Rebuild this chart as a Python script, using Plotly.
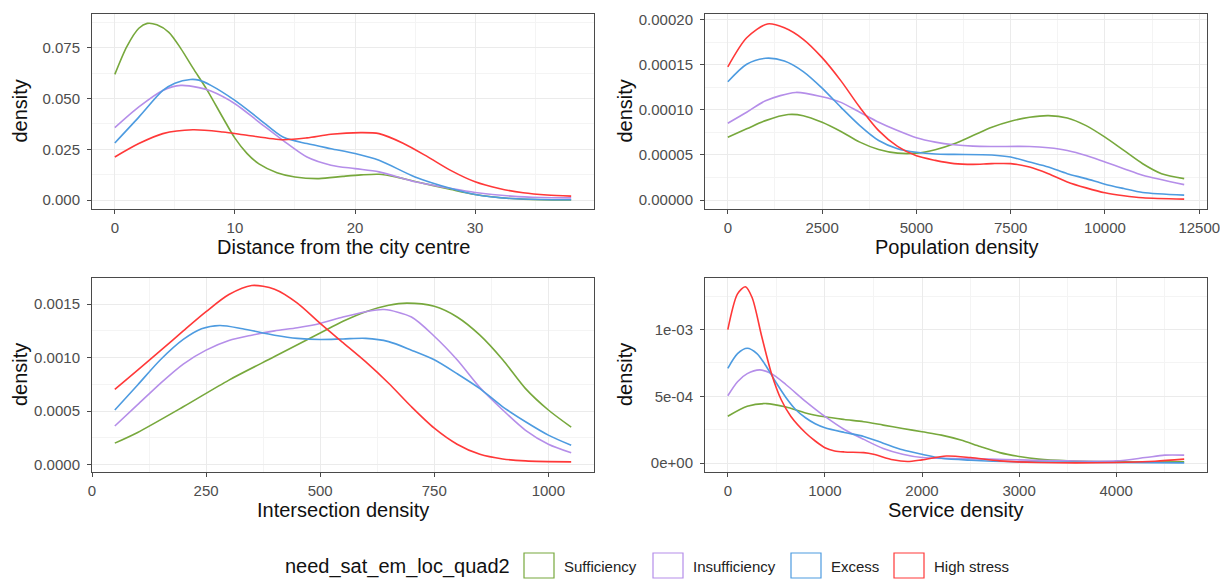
import plotly.graph_objects as go
from plotly.subplots import make_subplots

W, H = 1220, 579

groups = ["Sufficiency", "Insufficiency", "Excess", "High stress"]
colors = ["#77a83c", "#b58ee9", "#4d9be0", "#ff3838"]
legend_title = "need_sat_em_loc_quad2"

# ---- Panel 1: Distance from the city centre ----
dist_suff_x = [0, 1, 2, 2.7, 3.5, 4.5, 5.5, 6.5, 7.7, 9, 10, 11, 12, 13.5, 15, 17, 19, 20.5, 22, 23.5, 25, 28, 30, 33, 35.5, 38]
dist_suff_y = [0.0618, 0.0755, 0.0845, 0.0869, 0.0862, 0.0825, 0.0745, 0.0650, 0.0540, 0.0405, 0.0305, 0.0230, 0.0178, 0.0135, 0.0114, 0.0106, 0.0117, 0.0124, 0.0127, 0.0113, 0.0092, 0.0052, 0.0028, 0.0008, 0.0002, 0.0001]
dist_insuf_x = [0, 2, 4, 5.5, 7, 8, 10, 12, 14, 16, 18, 20, 22, 25, 28, 30, 33, 35.5, 38]
dist_insuf_y = [0.0356, 0.0458, 0.0539, 0.0564, 0.0553, 0.0536, 0.0474, 0.0384, 0.0294, 0.0212, 0.0172, 0.0155, 0.0139, 0.009, 0.0057, 0.0038, 0.002, 0.0013, 0.0011]
dist_exc_x = [0, 2, 4, 5, 6.3, 7, 8, 10, 12, 14, 16, 18, 20, 22, 25, 28, 30, 33, 35.5, 38]
dist_exc_y = [0.0281, 0.0408, 0.0539, 0.0575, 0.0593, 0.059, 0.0564, 0.049, 0.040, 0.031, 0.0278, 0.0253, 0.0229, 0.0196, 0.0114, 0.0057, 0.0028, 0.0008, 0.0003, 0.0002]
dist_high_x = [0, 2, 4, 6.5, 9, 11, 14, 16, 18, 20.5, 22, 24, 26, 28, 30, 32, 34, 36, 38]
dist_high_y = [0.0212, 0.0278, 0.0327, 0.0346, 0.0335, 0.0319, 0.0297, 0.0306, 0.0324, 0.0332, 0.0327, 0.028, 0.0215, 0.0145, 0.009, 0.0057, 0.0036, 0.0025, 0.002]

# ---- Panel 2: Population density ----
pop_suff_x = [0, 500, 1000, 1600, 2000, 2500, 3000, 3500, 4000, 4500, 5000, 5500, 6000, 6500, 7000, 7500, 8000, 8500, 9000, 9500, 10000, 10500, 11000, 11500, 12100]
pop_suff_y = [6.97e-5, 7.89e-5, 8.8e-5, 9.47e-5, 9.35e-5, 8.62e-5, 7.6e-5, 6.42e-5, 5.6e-5, 5.2e-5, 5.2e-5, 5.58e-5, 6.24e-5, 7.15e-5, 8.07e-5, 8.73e-5, 9.17e-5, 9.35e-5, 9.1e-5, 8.25e-5, 6.97e-5, 5.5e-5, 4.03e-5, 2.93e-5, 2.38e-5]
pop_insuf_x = [0, 500, 1000, 1800, 2500, 3000, 3500, 4000, 4500, 5000, 5500, 6000, 6500, 7000, 8000, 8500, 9000, 9500, 10000, 10500, 11000, 12100]
pop_insuf_y = [8.51e-5, 9.72e-5, 1.10e-4, 1.192e-4, 1.144e-4, 1.082e-4, 9.72e-5, 8.62e-5, 7.7e-5, 6.9e-5, 6.42e-5, 6.13e-5, 5.98e-5, 5.94e-5, 5.94e-5, 5.8e-5, 5.5e-5, 4.95e-5, 4.22e-5, 3.48e-5, 2.75e-5, 1.72e-5]
pop_exc_x = [0, 500, 1000, 1500, 2000, 2500, 3000, 3500, 4000, 4500, 5000, 5500, 6000, 7000, 7500, 8000, 8500, 9000, 9500, 10000, 10500, 11000, 12100]
pop_exc_y = [1.31e-4, 1.504e-4, 1.57e-4, 1.54e-4, 1.423e-4, 1.24e-4, 1.027e-4, 8.25e-5, 6.6e-5, 5.7e-5, 5.3e-5, 5.1e-5, 5.06e-5, 5.0e-5, 4.77e-5, 4.22e-5, 3.67e-5, 2.93e-5, 2.38e-5, 1.76e-5, 1.28e-5, 8.4e-6, 5.5e-6]
pop_high_x = [0, 500, 1050, 1500, 2000, 2500, 3000, 3500, 4000, 4500, 5000, 5500, 6000, 6500, 7000, 7500, 8000, 8500, 9000, 9500, 10000, 10500, 11000, 12100]
pop_high_y = [1.475e-4, 1.797e-4, 1.95e-4, 1.907e-4, 1.78e-4, 1.577e-4, 1.32e-4, 1.027e-4, 7.7e-5, 5.95e-5, 4.9e-5, 4.4e-5, 4.04e-5, 3.96e-5, 4.04e-5, 4.04e-5, 3.67e-5, 2.93e-5, 2.02e-5, 1.36e-5, 8.1e-6, 4.8e-6, 2.6e-6, 1.1e-6]

# ---- Panel 3: Intersection density ----
int_suff_x = [50, 100, 200, 300, 400, 500, 550, 600, 650, 690, 750, 800, 850, 900, 950, 1000, 1050]
int_suff_y = [0.0002, 0.0003, 0.00054, 0.00079, 0.00101, 0.00123, 0.00134, 0.00143, 0.00149, 0.00151, 0.00148, 0.00138, 0.00121, 0.00098, 0.00071, 0.00051, 0.00035]
int_insuf_x = [50, 100, 150, 200, 250, 300, 350, 400, 450, 500, 550, 600, 640, 700, 750, 800, 850, 900, 950, 1000, 1050]
int_insuf_y = [0.00036, 0.00056, 0.00076, 0.00094, 0.00107, 0.00116, 0.00121, 0.00125, 0.00128, 0.00132, 0.00138, 0.00143, 0.00145, 0.00138, 0.00120, 0.00098, 0.00072, 0.00051, 0.00032, 0.00019, 0.00011]
int_exc_x = [50, 100, 150, 200, 240, 280, 330, 400, 450, 500, 550, 600, 650, 700, 750, 800, 850, 900, 950, 1000, 1050]
int_exc_y = [0.00051, 0.000744, 0.00098, 0.00117, 0.00127, 0.0013, 0.00127, 0.00121, 0.00118, 0.00117, 0.001175, 0.00118, 0.00115, 0.00107, 0.00098, 0.00085, 0.00071, 0.00054, 0.0004, 0.000275, 0.00018]
int_high_x = [50, 100, 150, 200, 250, 300, 350, 400, 450, 500, 550, 600, 650, 700, 750, 800, 850, 900, 950, 1050]
int_high_y = [0.000703, 0.000884, 0.001065, 0.00125, 0.00143, 0.00159, 0.001675, 0.00164, 0.00151, 0.00132, 0.00114, 0.00096, 0.00076, 0.00054, 0.00034, 0.00019, 0.0000950, 0.000052, 0.000034, 0.000025]

# ---- Panel 4: Service density ----
srv_suff_x = [0, 200, 400, 600, 800, 1000, 1200, 1400, 1600, 1800, 2000, 2200, 2400, 2600, 2800, 3000, 3200, 3500, 4000, 4700]
srv_suff_y = [0.000351, 0.000426, 0.000446, 0.00042, 0.000376, 0.000347, 0.000327, 0.00031, 0.000285, 0.00026, 0.000235, 0.00021, 0.000173, 0.000124, 0.000079, 0.00005, 0.00003, 0.000017, 0.00001, 0.00001]
srv_insuf_x = [0, 100, 200, 330, 450, 600, 800, 1000, 1200, 1400, 1600, 1800, 2000, 2300, 2700, 3000, 3500, 4000, 4300, 4500, 4700]
srv_insuf_y = [0.000505, 0.00061, 0.00067, 0.000698, 0.00067, 0.000587, 0.000463, 0.00035, 0.000252, 0.000178, 0.00011, 0.000067, 0.000042, 0.000035, 0.00003, 0.000025, 0.000017, 0.000017, 0.000042, 0.00006, 0.00006]
srv_exc_x = [0, 100, 200, 300, 400, 500, 600, 700, 800, 900, 1000, 1200, 1400, 1600, 1800, 2000, 2200, 2500, 3000, 4000, 4700]
srv_exc_y = [0.00071, 0.00082, 0.00086, 0.00082, 0.00072, 0.0006, 0.00049, 0.0004, 0.00034, 0.000295, 0.000265, 0.00023, 0.0002, 0.00015, 0.0001, 0.000067, 0.000037, 0.000022, 0.00001, 0.000005, 0.000002]
srv_high_x = [0, 100, 180, 250, 350, 450, 550, 650, 800, 900, 1000, 1100, 1200, 1400, 1500, 1700, 1850, 2000, 2250, 2500, 2800, 3200, 4000, 4400, 4700]
srv_high_y = [0.001, 0.001267, 0.00132, 0.00124, 0.000946, 0.00067, 0.000475, 0.00035, 0.000228, 0.000166, 0.000116, 0.0000916, 0.000084, 0.000079, 0.000067, 0.000025, 0.0000124, 0.000025, 0.000054, 0.000042, 0.000017, 0.000005, 0.000005, 0.000015, 0.00003]

# ---- Axis titles and ticks ----
x_titles = ["Distance from the city centre", "Population density", "Intersection density", "Service density"]
y_title = "density"
x_tickvals = [[0, 10, 20, 30], [0, 2500, 5000, 7500, 10000, 12500], [0, 250, 500, 750, 1000], [0, 1000, 2000, 3000, 4000]]
x_ticktext = [["0", "10", "20", "30"], ["0", "2500", "5000", "7500", "10000", "12500"], ["0", "250", "500", "750", "1000"], ["0", "1000", "2000", "3000", "4000"]]
y_tickvals = [[0, 0.025, 0.05, 0.075], [0, 0.00005, 0.0001, 0.00015, 0.0002], [0, 0.0005, 0.001, 0.0015], [0, 0.0005, 0.001]]
y_ticktext = [["0.000", "0.025", "0.050", "0.075"], ["0.00000", "0.00005", "0.00010", "0.00015", "0.00020"], ["0.0000", "0.0005", "0.0010", "0.0015"], ["0e+00", "5e-04", "1e-03"]]
x_ranges = [[-1.9, 39.9], [-605, 12705], [0, 1100], [-235, 4935]]
y_ranges = [[-0.00435, 0.0915], [-0.0000098, 0.000206], [-0.00007, 0.001745], [-0.000066, 0.001386]]

panels = [
    [(dist_suff_x, dist_suff_y), (dist_insuf_x, dist_insuf_y), (dist_exc_x, dist_exc_y), (dist_high_x, dist_high_y)],
    [(pop_suff_x, pop_suff_y), (pop_insuf_x, pop_insuf_y), (pop_exc_x, pop_exc_y), (pop_high_x, pop_high_y)],
    [(int_suff_x, int_suff_y), (int_insuf_x, int_insuf_y), (int_exc_x, int_exc_y), (int_high_x, int_high_y)],
    [(srv_suff_x, srv_suff_y), (srv_insuf_x, srv_insuf_y), (srv_exc_x, srv_exc_y), (srv_high_x, srv_high_y)],
]

FONT = "Liberation Sans, Arial, sans-serif"

# panel boxes in pixels (left, right, top, bottom)
boxes = [(92, 594, 14, 209), (705, 1207, 14, 209), (92, 594, 278, 472), (705, 1207, 278, 472)]

fig = make_subplots(rows=2, cols=2)
positions = [(1, 1), (1, 2), (2, 1), (2, 2)]

for p, (r, c) in enumerate(positions):
    for g, (xs, ys) in enumerate(panels[p]):
        fig.add_trace(go.Scatter(x=xs, y=ys, mode="lines", name=groups[g],
                                 line=dict(color=colors[g], width=1.6, shape="spline", smoothing=0.8),
                                 showlegend=False, hoverinfo="skip"), row=r, col=c)

def mids(vals, rng):
    step = vals[1] - vals[0]
    out = []
    v = vals[0] - step / 2
    while v <= rng[1]:
        if v >= rng[0]:
            out.append(v)
        v += step
    return out

for p in range(4):
    l, rr, t, b = boxes[p]
    xd = [l / W, rr / W]
    yd = [1 - b / H, 1 - t / H]
    axn = "" if p == 0 else str(p + 1)
    common = dict(showline=True, mirror=True, linecolor="#4a4a4a", linewidth=1,
                  ticks="outside", ticklen=4, tickcolor="#4a4a4a", tickwidth=1,
                  showgrid=True, gridcolor="#ebebeb", gridwidth=1, zeroline=False,
                  tickfont=dict(family=FONT, size=15, color="#4d4d4d"),
                  tickmode="array", ticklabeloverflow="allow", automargin=False)
    fig.layout["xaxis" + axn].update(domain=xd, range=x_ranges[p], tickvals=x_tickvals[p],
                                     ticktext=x_ticktext[p], ticklabelstandoff=1,
                                     minor=dict(tickvals=mids(x_tickvals[p], x_ranges[p]), showgrid=True,
                                                gridcolor="#f4f4f4", gridwidth=0.6, ticks=""),
                                     **common)
    fig.layout["yaxis" + axn].update(domain=yd, range=y_ranges[p], tickvals=y_tickvals[p],
                                     ticktext=y_ticktext[p], ticklabelstandoff=4,
                                     minor=dict(tickvals=mids(y_tickvals[p], y_ranges[p]), showgrid=True,
                                                gridcolor="#f4f4f4", gridwidth=0.6, ticks=""),
                                     **common)

annotations = []
# axis titles
for p in range(4):
    l, rr, t, b = boxes[p]
    annotations.append(dict(text=x_titles[p], x=(l + rr) / 2 / W, y=1 - (b + 38) / H,
                            xref="paper", yref="paper", showarrow=False, xanchor="center", yanchor="middle",
                            font=dict(family=FONT, size=20, color="#111111")))
    yx = 20 if p in (0, 2) else 625
    annotations.append(dict(text=y_title, x=yx / W, y=1 - (t + b) / 2 / H, textangle=-90,
                            xref="paper", yref="paper", showarrow=False, xanchor="center", yanchor="middle",
                            font=dict(family=FONT, size=20, color="#111111")))

# legend (drawn manually, ggplot style)
leg_y = 566
annotations.append(dict(text=legend_title, x=283 / W, y=1 - leg_y / H, xref="paper", yref="paper",
                        showarrow=False, xanchor="left", yanchor="middle",
                        font=dict(family=FONT, size=20, color="#111111")))
key_left = [524, 653, 791, 894]
shapes = []
for g in range(4):
    kx = key_left[g]
    shapes.append(dict(type="rect", xref="paper", yref="paper",
                       x0=kx / W, x1=(kx + 30) / W, y0=1 - 578 / H, y1=1 - 553 / H,
                       line=dict(color=colors[g], width=1.2), fillcolor="rgba(255,255,255,0)"))
    annotations.append(dict(text=groups[g], x=(kx + 38) / W, y=1 - leg_y / H, xref="paper", yref="paper",
                            showarrow=False, xanchor="left", yanchor="middle",
                            font=dict(family=FONT, size=15, color="#222222")))

fig.update_layout(width=W, height=H, margin=dict(l=0, r=0, t=0, b=0, autoexpand=False),
                  paper_bgcolor="white", plot_bgcolor="white",
                  annotations=annotations, shapes=shapes, showlegend=False,
                  font=dict(family=FONT))

fig.write_html("out.html", config={"displayModeBar": False},
               post_script="document.body.style.margin='0';document.body.style.overflow='hidden';")
